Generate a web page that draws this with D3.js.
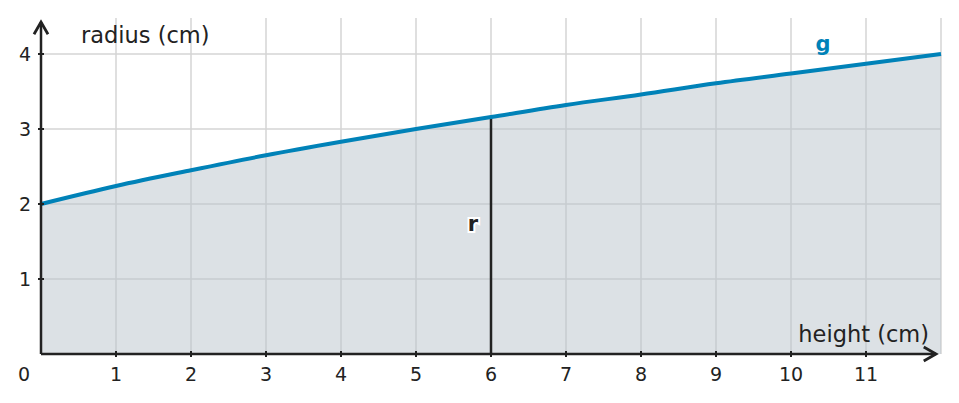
<!DOCTYPE html>
<html><head><meta charset="utf-8">
<script src="https://cdn.jsdelivr.net/npm/d3@7/dist/d3.min.js"></script>
<style>body{margin:0;background:#fff}text{font-family:"DejaVu Sans",sans-serif}</style>
</head><body><svg id="c" width="959" height="403"></svg>
<script>
const heights=[0,1,2,3,4,5,6,7,8,9,10,11,12];
const radii=[2,2.24,2.45,2.65,2.83,3,3.16,3.32,3.46,3.61,3.74,3.87,4];
const xTicks=[1,2,3,4,5,6,7,8,9,10,11];
const yTicks=[1,2,3,4];
const markerH=6, markerR=3.16;
const svg=d3.select("#c");
const x=d3.scaleLinear().domain([0,12]).range([41,941]);
const y=d3.scaleLinear().domain([0,4]).range([354,54]);
const g=svg.append("g");
g.selectAll(".vx").data(xTicks).join("line").attr("x1",d=>x(d)).attr("x2",d=>x(d)).attr("y1",y(0)).attr("y2",18).attr("stroke","#d4d4d4").attr("stroke-width",1.5);
g.append("line").attr("x1",x(12)).attr("x2",x(12)).attr("y1",y(0)).attr("y2",18).attr("stroke","#d4d4d4").attr("stroke-width",1.5);
g.selectAll(".hy").data(yTicks).join("line").attr("x1",x(0)).attr("x2",x(12)).attr("y1",d=>y(d)).attr("y2",d=>y(d)).attr("stroke","#d4d4d4").attr("stroke-width",1.5);
const pts=heights.map((h,i)=>[h,radii[i]]);
const curve=d3.curveMonotoneX;
svg.append("path").attr("d",d3.area().x(d=>x(d[0])).y0(y(0)).y1(d=>y(d[1])).curve(curve)(pts)).attr("fill","#b9c3cb").attr("fill-opacity",0.5);
svg.append("line").attr("x1",x(markerH)).attr("x2",x(markerH)).attr("y1",y(0)).attr("y2",y(markerR)).attr("stroke","#222").attr("stroke-width",2.5);
svg.append("path").attr("d",d3.line().x(d=>x(d[0])).y(d=>y(d[1])).curve(curve)(pts)).attr("fill","none").attr("stroke","#0082b8").attr("stroke-width",4);
svg.append("defs").append("marker").attr("id","ar").attr("viewBox","0 0 10 10").attr("refX",8).attr("refY",5).attr("markerWidth",7).attr("markerHeight",7).attr("orient","auto")
 .append("path").attr("d","M1,1 L8,5 L1,9").attr("fill","none").attr("stroke","#222").attr("stroke-width",1.6);
svg.append("line").attr("x1",x(0)).attr("x2",936).attr("y1",y(0)).attr("y2",y(0)).attr("stroke","#222").attr("stroke-width",2.5).attr("marker-end","url(#ar)");
svg.append("line").attr("x1",x(0)).attr("x2",x(0)).attr("y1",y(0)).attr("y2",22).attr("stroke","#222").attr("stroke-width",2.5).attr("marker-end","url(#ar)");
svg.selectAll(".xt").data(xTicks).join("line").attr("x1",d=>x(d)).attr("x2",d=>x(d)).attr("y1",y(0)-3).attr("y2",y(0)+3).attr("stroke","#222").attr("stroke-width",2);
svg.selectAll(".yt").data(yTicks).join("line").attr("x1",x(0)-3).attr("x2",x(0)+3).attr("y1",d=>y(d)).attr("y2",d=>y(d)).attr("stroke","#222").attr("stroke-width",2);
svg.selectAll(".xl").data(xTicks).join("text").attr("x",d=>x(d)).attr("y",381).attr("text-anchor","middle").attr("font-size",19).attr("fill","#222").text(d=>d);
svg.selectAll(".yl").data(yTicks).join("text").attr("x",31).attr("y",d=>y(d)+7).attr("text-anchor","end").attr("font-size",19).attr("fill","#222").text(d=>d);
svg.append("text").attr("x",24).attr("y",381).attr("text-anchor","middle").attr("font-size",19).attr("fill","#222").text("0");
svg.append("text").attr("x",81).attr("y",43).attr("font-size",22.5).attr("fill","#222").text("radius (cm)");
svg.append("text").attr("x",929).attr("y",342).attr("text-anchor","end").attr("font-size",22.5).attr("fill","#222").text("height (cm)");
svg.append("text").attr("x",823).attr("y",51).attr("text-anchor","middle").attr("font-size",21).attr("font-weight","bold").attr("fill","#0082b8").text("g");
svg.append("text").attr("x",473).attr("y",231).attr("text-anchor","middle").attr("font-size",21).attr("font-weight","bold").attr("fill","#222").attr("stroke","#fff").attr("stroke-width",4).attr("paint-order","stroke").text("r");
</script></body></html>
